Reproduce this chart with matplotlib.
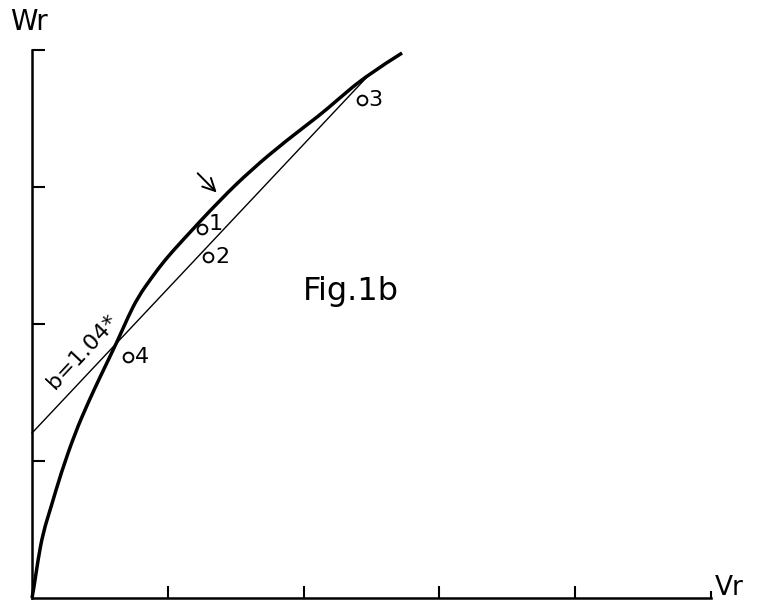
import matplotlib
matplotlib.use("Agg")
import matplotlib.pyplot as plt
from matplotlib.path import Path
from matplotlib.patches import PathPatch

# thick curve (Vr, Wr)
curve_vr = [0.0, 0.015, 0.044, 0.081, 0.140, 0.214, 0.317, 0.412, 0.501, 0.633,
            0.707, 0.781, 0.884, 0.979, 1.090, 1.384, 1.620, 1.878, 2.121, 2.231,
            2.467, 2.725]
curve_wr = [0.0, 0.080, 0.277, 0.474, 0.664, 0.912, 1.204, 1.423, 1.613, 1.883,
            2.051, 2.197, 2.343, 2.467, 2.591, 2.905, 3.130, 3.343, 3.526, 3.620,
            3.818, 3.978]

# thin straight line (slope b = 1.04)
line_vr = [0.0, 2.467]
line_wr = [1.204, 3.803]

# numbered points
pt_labels = ["1", "2", "3", "4"]
pt_vr = [1.250, 1.298, 2.428, 0.709]
pt_wr = [2.691, 2.491, 3.635, 1.761]
pt_dy = [4, 0, 0, 0]   # label vertical nudge (points)

x_ticks = [1, 2, 3, 4]
x_end = [5]
y_ticks = [1, 2, 3, 4]

plt.rcParams['font.family'] = ['DejaVu Sans']

fig = plt.figure(figsize=(7.57, 6.01), dpi=100)
ax = fig.add_axes([32/757, 1-598/601, (711-32)/757, (598-50)/601])
ax.set_xlim(0, 5)
ax.set_ylim(0, 4)

# smooth curve: quadratic Bezier segments with the read points as control points
pts = list(zip(curve_vr, curve_wr))
verts = [pts[0]]
codes = [Path.MOVETO]
for i in range(1, len(pts) - 1):
    (x0, y0), (x1, y1) = pts[i], pts[i + 1]
    end = pts[i + 1] if i == len(pts) - 2 else ((x0 + x1) / 2, (y0 + y1) / 2)
    verts += [pts[i], end]
    codes += [Path.CURVE3, Path.CURVE3]
ax.add_patch(PathPatch(Path(verts, codes), fill=False, edgecolor='black', lw=2.5,
                       capstyle='butt', joinstyle='round', clip_on=False))

ax.plot(line_vr, line_wr, color='black', lw=1.0, clip_on=False)
ax.plot(pt_vr, pt_wr, 'o', ms=7, mfc='white', mec='black', mew=1.4, clip_on=False)
for lab, x, y, dy in zip(pt_labels, pt_vr, pt_wr, pt_dy):
    ax.annotate(lab, xy=(x, y), xytext=(5, dy), textcoords='offset points',
                fontsize=16, ha='left', va='center')

ax.annotate("", xy=(1.36, 2.96), xytext=(1.22, 3.10),
            arrowprops=dict(arrowstyle='->', color='black', lw=1.4, mutation_scale=22,
                            shrinkA=0, shrinkB=0))

ax.text(0.37, 1.80, "b=1.04*", fontsize=16, rotation=47, ha='center', va='center')
ax.text(2.35, 2.24, "Fig.1b", fontsize=23, ha='center', va='center')

for s in ['top', 'right']:
    ax.spines[s].set_visible(False)
for s in ['left', 'bottom']:
    ax.spines[s].set_linewidth(1.8)

ax.set_xticks(x_ticks)
ax.set_xticks(x_end, minor=True)
ax.set_yticks(y_ticks)
ax.tick_params(which='major', direction='in', length=9, width=1.5,
               labelbottom=False, labelleft=False)
ax.tick_params(which='minor', direction='in', length=5, width=1.5)

fig.text(10/757, 1-22/601, "Wr", fontsize=20, ha='left', va='center')
fig.text(715/757, 1-588/601, "Vr", fontsize=19, ha='left', va='center')

fig.savefig("out.png", dpi=100)
